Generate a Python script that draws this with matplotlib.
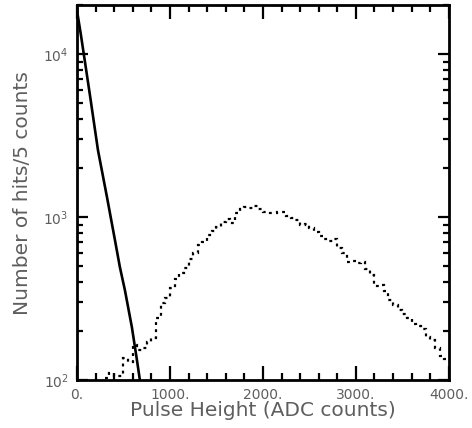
import numpy as np
import matplotlib
matplotlib.use("Agg")
import matplotlib.pyplot as plt
from matplotlib.ticker import FixedLocator, FuncFormatter, LogLocator, NullFormatter

# Signal histogram (dotted), 50 ADC-count bins starting at 300
bin_start = 300
bin_width = 50
signal_counts = [
    103, 110, 106, 106, 136, 129, 164, 153, 157, 171,
    181, 240, 297, 319, 367, 417, 453, 486, 553, 601,
    673, 703, 776, 821, 868, 931, 972, 919, 1058, 1120,
    1151, 1136, 1167, 1120, 1073, 1058, 1058, 1073, 1073, 1014,
    986, 959, 893, 906, 856, 809, 764, 733, 713, 733,
    645, 601, 530, 537, 522, 530, 480, 441, 377, 383,
    352, 310, 288, 269, 254, 240, 221, 214, 206, 184,
    176, 157, 140, 135,
]

# Pedestal (solid line)
ped_adc = [0, 43, 140, 226, 323, 409, 462, 516, 591, 645, 677, 700]
ped_counts = [18600, 13100, 5600, 2580, 1328, 722, 493, 356, 211, 133, 100, 85]

text_color = "#5e5e5e"

edges = bin_start + bin_width * np.arange(len(signal_counts) + 1)

fig = plt.figure(figsize=(4.72, 4.28), dpi=100)
ax = fig.add_axes([0.163, 0.112, 0.788, 0.876])

ax.stairs(signal_counts, edges, baseline=None, color="black",
          linewidth=1.6, linestyle=(0, (1.3, 1.9)))
ax.plot(ped_adc, ped_counts, color="black", linewidth=1.9)

ax.set_yscale("log")
ax.set_xlim(0, 4000)
ax.set_ylim(100, 20000)

ax.xaxis.set_major_locator(FixedLocator([0, 1000, 2000, 3000, 4000]))
ax.xaxis.set_minor_locator(FixedLocator(np.arange(0, 4001, 200)))
ax.xaxis.set_major_formatter(FuncFormatter(lambda v, p: f"{v:.0f}."))
ax.yaxis.set_major_locator(LogLocator(base=10, numticks=10))
ax.yaxis.set_minor_locator(LogLocator(base=10, subs=np.arange(2, 10), numticks=10))
ax.yaxis.set_minor_formatter(NullFormatter())
ax.yaxis.set_major_formatter(FuncFormatter(lambda v, p: r"$10^{%d}$" % round(np.log10(v))))

ax.tick_params(which="both", direction="in", top=True, right=True,
               color="black", labelcolor=text_color, labelsize=10, width=1.6)
ax.tick_params(which="major", length=10, pad=6)
ax.tick_params(which="minor", length=5)
ax.tick_params(axis="y", which="major", length=8)
ax.tick_params(axis="y", which="minor", length=4)

for s in ax.spines.values():
    s.set_linewidth(2)

ax.set_xlabel("Pulse Height (ADC counts)", fontsize=14.5, color=text_color, labelpad=-1)
ax.set_ylabel("Number of hits/5 counts", fontsize=14.5, color=text_color, labelpad=8)

fig.savefig("out.png", dpi=100)
